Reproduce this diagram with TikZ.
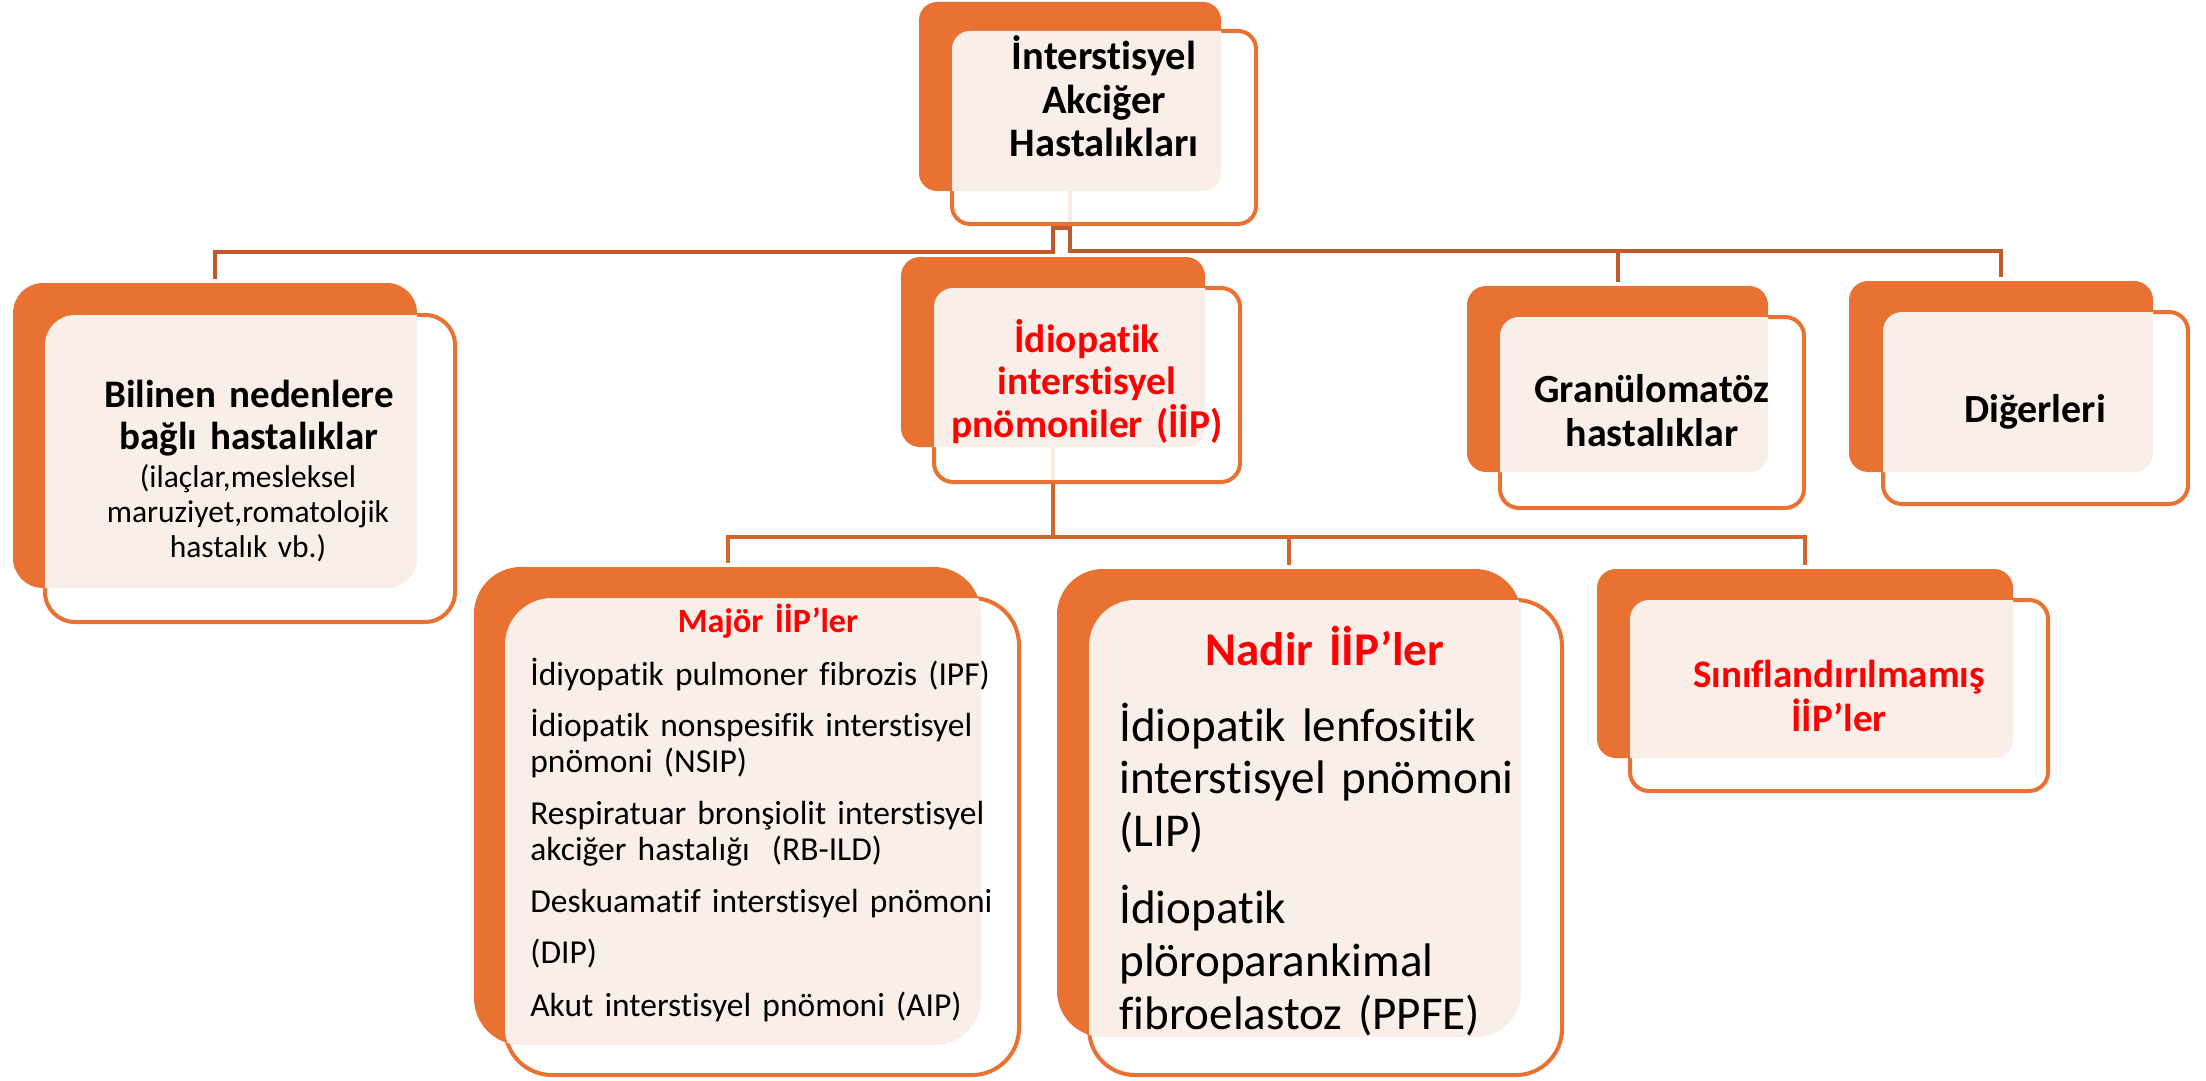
\documentclass[tikz,border=0pt]{standalone}
\usepackage{fontspec}
\setmainfont{Carlito}[Ligatures={NoCommon}, WordSpace=0.8]
\usetikzlibrary{fit}
\pgfdeclarelayer{bg}
\pgfsetlayers{bg,main}
\definecolor{accorange}{HTML}{E97132}
\definecolor{accpeach}{HTML}{FAEEE8}
\definecolor{linkdark}{HTML}{C05A2A}
\definecolor{linklight}{HTML}{D4652E}
\definecolor{txtred}{HTML}{FF0000}
\tikzset{
  backbox/.style={fill=accorange, inner sep=0pt, outer sep=0pt},
  frontbox/.style={draw=accorange, line width=0.08cm, fill=white, fill opacity=0.88, draw opacity=1, inner sep=0pt, outer sep=0pt},
  toplink/.style={draw=linkdark, line width=0.08cm, shorten >=0.08cm},
  sublink/.style={draw=linklight, line width=0.08cm, shorten >=0.09cm},
  ctext/.style={inner sep=0pt, anchor=base, align=center, text width=9cm},
  ltext/.style={inner sep=0pt, anchor=base west, align=left, text width=10cm},
  redtxt/.style={text=txtred},
}
% #1 name, #2/#3 back corners, #4/#5 front corners, #6 radius in px
\newcommand\accbox[6]{%
  \node[backbox, rounded corners=#6*0.02cm, fit={#2 #3}] (#1b) {};
  \node[frontbox, rounded corners=#6*0.02cm, fit={#4 #5}] (#1f) {};
  \begin{scope}
    \clip[rounded corners=#6*0.02cm] #2 rectangle #3;
    \fill[accpeach, rounded corners=#6*0.02cm] #4 rectangle #5;
  \end{scope}
}
\begin{document}
\begin{tikzpicture}[x=0.02cm, y=-0.02cm]
\useasboundingbox (0,0) rectangle (2206,1081);
\begin{pgfonlayer}{bg}
\fill[white] (0,0) rectangle (2206,1081);
\end{pgfonlayer}

% level 1
\accbox{root}{(919,2)}{(1221,191)}{(952,31)}{(1256,224)}{18}
\node[ctext, font=\fontsize{23.05pt}{24.75pt}\selectfont\bfseries] (roottxt) at (1104,70) {İnterstisyel\\Akciğer\\Hastalıkları};

% level 2
\accbox{bil}{(13,283)}{(417,588)}{(45,315)}{(455,622)}{30}
\node[ctext, font=\fontsize{22.19pt}{24.47pt}\selectfont\bfseries] (biltxt) at (249,407) {Bilinen nedenlere\\bağlı hastalıklar};
\node[ctext, font=\fontsize{17.93pt}{19.92pt}\selectfont] (bilsub) at (248,487) {(ilaçlar,mesleksel\\maruziyet,romatolojik\\hastalık vb.)};

\accbox{iip}{(901,257)}{(1205,447)}{(934,288)}{(1240,482)}{19}
\node[ctext, redtxt, font=\fontsize{22.48pt}{24.47pt}\selectfont\bfseries] (iiptxt) at (1087,352) {İdiopatik\\interstisyel\\pnömoniler (İİP)};

\accbox{gran}{(1467,286)}{(1768,472)}{(1500,317)}{(1804,508)}{19}
\node[ctext, font=\fontsize{22.76pt}{25.6pt}\selectfont\bfseries] (grantxt) at (1652,402) {Granülomatöz\\hastalıklar};

\accbox{dig}{(1849,281)}{(2153,472)}{(1883,312)}{(2188,504)}{19}
\node[ctext, font=\fontsize{22.76pt}{25.6pt}\selectfont\bfseries] (digtxt) at (2035,422) {Diğerleri};

% level 3
\accbox{maj}{(474,567)}{(981,1045)}{(505,598)}{(1019,1075)}{47}
\node[ctext, redtxt, font=\fontsize{19.35pt}{21pt}\selectfont\bfseries] (majtitle) at (768,632) {Majör İİP’ler};
\node[ltext, font=\fontsize{19.06pt}{20.49pt}\selectfont] (majbody) at (530,685) {İdiyopatik pulmoner fibrozis (IPF)\\[9.1pt]İdiopatik nonspesifik interstisyel\\pnömoni (NSIP)\\[9.1pt]Respiratuar bronşiolit interstisyel\\akciğer hastalığı\ \ (RB-ILD)\\[9.1pt]Deskuamatif interstisyel pnömoni\\[8.5pt](DIP)\\[9.7pt]Akut interstisyel pnömoni (AIP)};

\accbox{nad}{(1057,569)}{(1521,1037)}{(1089,600)}{(1562,1075)}{46}
\node[ctext, redtxt, font=\fontsize{26.75pt}{28pt}\selectfont\bfseries] (nadtitle) at (1325,665) {Nadir İİP’ler};
\node[ltext, text width=9cm, font=\fontsize{26.8pt}{30.16pt}\selectfont] (nadbody) at (1119,741) {İdiopatik lenfositik\\interstisyel pnömoni\\(LIP)\\[13.66pt]İdiopatik\\plöroparankimal\\fibroelastoz (PPFE)};

\accbox{sin}{(1597,569)}{(2013,758)}{(1630,600)}{(2048,791)}{19}
\node[ctext, redtxt, font=\fontsize{22.19pt}{25.6pt}\selectfont\bfseries] (sintxt) at (1839,687) {Sınıflandırılmamış\\İİP’ler};

% connectors
\begin{pgfonlayer}{bg}
\draw[toplink] (rootb.south) -- ++(0,37) -| (iipb.north);
\draw[toplink] (rootb.south) -- ++(0,37) -| ++(-17,24) -| (bilb.north);
\draw[toplink] (rootb.south) -- ++(0,60) -| (granb.north);
\draw[toplink] (rootb.south) -- ++(0,60) -| (digb.north);
\draw[sublink] (iipb.south) -- ++(0,90) -| (majb.north);
\draw[sublink] (iipb.south) -- ++(0,90) -| (nadb.north);
\draw[sublink] (iipb.south) -- ++(0,90) -| (sinb.north);
\end{pgfonlayer}
\end{tikzpicture}
\end{document}
